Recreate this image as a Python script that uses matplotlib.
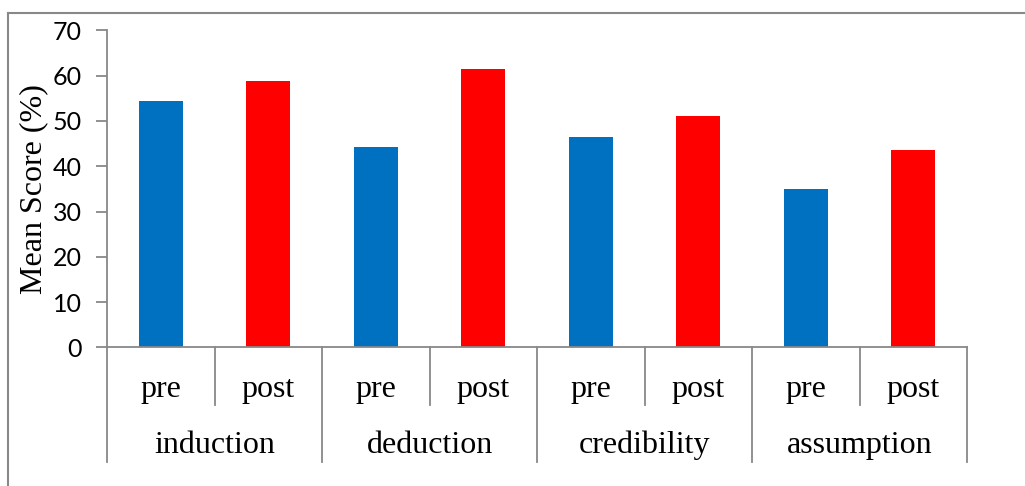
import matplotlib
matplotlib.use("Agg")
import matplotlib.pyplot as plt
from matplotlib.lines import Line2D
import numpy as np

# Mean scores per skill, before and after the course
skills = ["induction", "deduction", "credibility", "assumption"]
phases = ["pre", "post"]
pre_scores = [54.5, 44.2, 46.5, 34.9]
post_scores = [58.9, 61.4, 51.2, 43.5]

BLUE = "#0070C0"
RED = "#FF0000"
GRAY = "#888888"
SERIF = "Liberation Serif"

fig = plt.figure(figsize=(10.25, 4.86), dpi=100)
ax = fig.add_axes([107 / 1025, 0.285, 860 / 1025, 0.6525])

# interleave pre/post so each skill gets two adjacent bars
values = []
colors = []
for p, q in zip(pre_scores, post_scores):
    values += [p, q]
    colors += [BLUE, RED]
x = np.arange(len(values))
ax.bar(x, values, width=0.41, color=colors, zorder=2)

ax.set_xlim(-0.5, len(values) - 0.5)
ax.set_ylim(0, 70)
ax.set_yticks(np.arange(0, 71, 10))
ax.set_xticks([])
for s in ["top", "right"]:
    ax.spines[s].set_visible(False)
for s in ["left", "bottom"]:
    ax.spines[s].set_color(GRAY)
    ax.spines[s].set_linewidth(1.3)
ax.tick_params(axis="y", direction="out", length=8, width=1.3, color=GRAY,
               pad=10, labelsize=18)
for lbl in ax.get_yticklabels():
    lbl.set_fontfamily("Lato")

ax.set_ylabel("Mean Score (%)", fontfamily=SERIF, fontsize=23, labelpad=3)

# two-level category axis below the bars
trans = ax.get_xaxis_transform()
row1, row2 = -0.181, -0.361
for i in range(len(values) + 1):
    bottom = row2 if i % 2 == 0 else row1
    ax.add_line(Line2D([i - 0.5, i - 0.5], [0, bottom], transform=trans,
                       color=GRAY, lw=1.3, clip_on=False))
for i, v in enumerate(values):
    ax.text(i, -0.155, phases[i % 2], transform=trans, ha="center",
            va="baseline", fontfamily=SERIF, fontsize=23)
for j, name in enumerate(skills):
    ax.text(2 * j + 0.5, -0.332, name, transform=trans, ha="center",
            va="baseline", fontfamily=SERIF, fontsize=23)

# outer frame (top and left edges)
x0 = 8 / 1025
y0 = 1 - 13.5 / 486
fig.add_artist(Line2D([x0, 1.0], [y0, y0], transform=fig.transFigure,
                      color=GRAY, lw=1.5))
fig.add_artist(Line2D([x0, x0], [0.0, y0], transform=fig.transFigure,
                      color=GRAY, lw=1.5))

fig.savefig("out.png", dpi=100)
